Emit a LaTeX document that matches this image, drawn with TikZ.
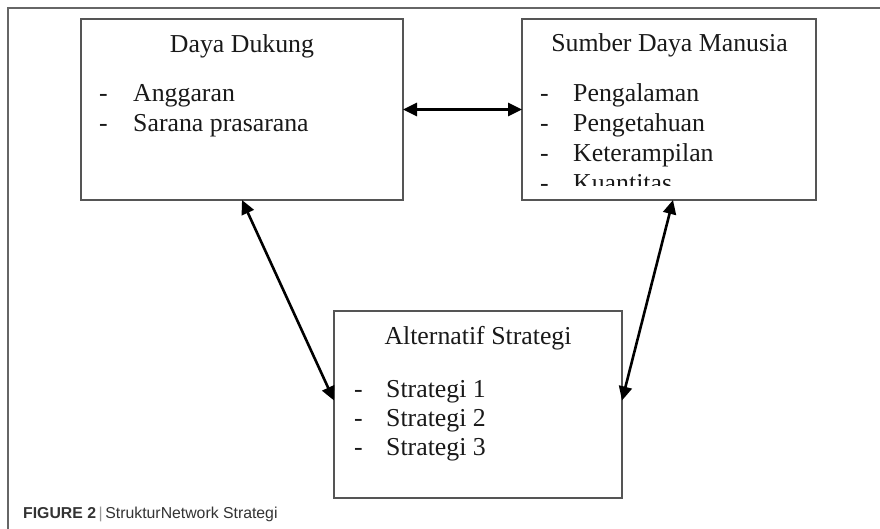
\documentclass[tikz,border=0pt]{standalone}
\usepackage{fontspec}
\setmainfont{Liberation Serif}
\newfontfamily\capfont{Liberation Sans}
\usetikzlibrary{arrows.meta,calc}
\definecolor{boxgray}{HTML}{555555}
\definecolor{framegray}{HTML}{666666}
\definecolor{captext}{HTML}{333333}
\definecolor{capbar}{HTML}{999999}
\tikzset{
  box/.style={draw=boxgray, line width=1.3pt, fill=white, inner sep=0pt, outer sep=0pt},
  txt/.style={font=\fontsize{25.8}{29.5}\selectfont, inner sep=0pt, text=black!90},
  link/.style={line width=2.6pt, {Triangle[length=14pt,width=13pt]}-{Triangle[length=14pt,width=13pt]}},
}
\begin{document}
\begin{tikzpicture}[x=1pt,y=-1pt]
\useasboundingbox (0,0) rectangle (880,529);
% outer frame
\draw[framegray, line width=1.2pt] (8,540) -- (8,8) -- (890,8);
% boxes
\node[box, minimum width=322pt, minimum height=181pt] (b1) at (242,109.5) {};
\node[box, minimum width=294pt, minimum height=181pt] (b2) at (669,109.5) {};
\node[box, minimum width=288pt, minimum height=187pt] (b3) at (478,404.5) {};
% box 1 text
\node[txt, anchor=base] (t1) at (242,53) {Daya Dukung};
\node[txt, anchor=base west] (d11) at (99,102) {-};
\node[txt, anchor=base west] (i11) at (133,102) {Anggaran};
\node[txt, anchor=base west] (d12) at (99,132) {-};
\node[txt, anchor=base west] (i12) at (133,132) {Sarana prasarana};
% box 2 text
\node[txt, anchor=base] (t2) at (669.5,52) {Sumber Daya Manusia};
\begin{scope}
\clip (522,19) rectangle (816,186);
\node[txt, anchor=base west] (d21) at (540,102) {-};
\node[txt, anchor=base west] (i21) at (573,102) {Pengalaman};
\node[txt, anchor=base west] (d22) at (540,132) {-};
\node[txt, anchor=base west] (i22) at (573,132) {Pengetahuan};
\node[txt, anchor=base west] (d23) at (540,162) {-};
\node[txt, anchor=base west] (i23) at (573,162) {Keterampilan};
\node[txt, anchor=base west] (d24) at (540,192) {-};
\node[txt, anchor=base west] (i24) at (573,192) {Kuantitas};
\end{scope}
% box 3 text
\node[txt, anchor=base] (t3) at (478,344) {Alternatif Strategi};
\node[txt, anchor=base west] (d31) at (354,397) {-};
\node[txt, anchor=base west] (i31) at (386,397) {Strategi 1};
\node[txt, anchor=base west] (d32) at (354,426) {-};
\node[txt, anchor=base west] (i32) at (386,426) {Strategi 2};
\node[txt, anchor=base west] (d33) at (354,455) {-};
\node[txt, anchor=base west] (i33) at (386,455) {Strategi 3};
% connectors
\draw[link] (b1.east) -- (b2.west);
\draw[link] (b1.south) -- ($(b3.west)+(0,-4)$);
\draw[link] ($(b2.south)+(4,0)$) -- ($(b3.east)+(0,-4)$);
% caption
\node[anchor=base west, inner sep=0pt, font=\capfont\fontsize{15.8}{18}\selectfont, text=captext] (cap) at (23,518)
  {\textbf{FIGURE 2}\,{\color{capbar}|}\,StrukturNetwork Strategi};
\end{tikzpicture}
\end{document}
